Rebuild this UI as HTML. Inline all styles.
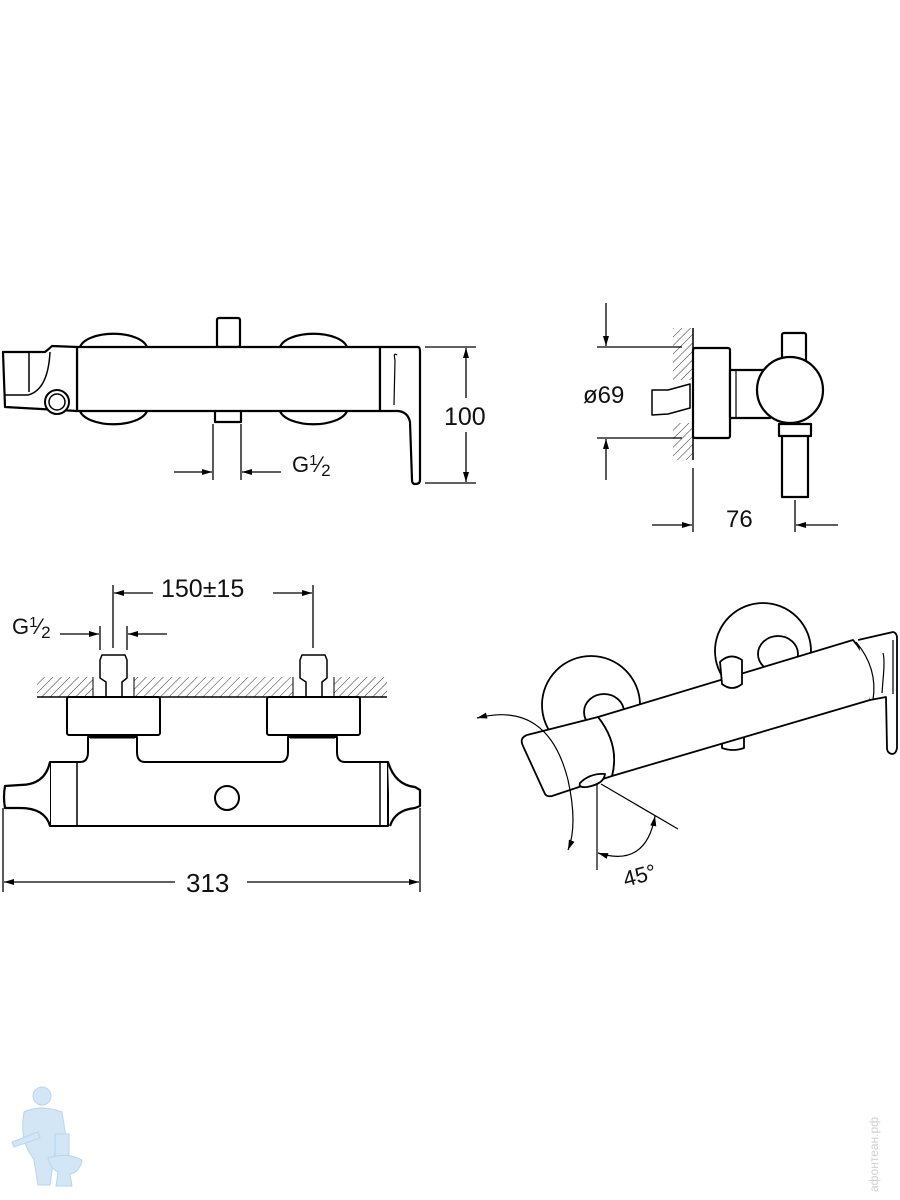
<!DOCTYPE html>
<html><head><style>
html,body{margin:0;padding:0;background:#fff}
svg{display:block}
text{font-family:"Liberation Sans",sans-serif;fill:#111}
</style></head><body>
<svg width="900" height="1200" viewBox="0 0 900 1200" xmlns="http://www.w3.org/2000/svg">
<defs>
<pattern id="h" width="6" height="6" patternUnits="userSpaceOnUse" patternTransform="rotate(45)">
<line x1="0" y1="0" x2="0" y2="6" stroke="#333" stroke-width="1"/></pattern>
<marker id="a" viewBox="0 0 10 10" refX="10" refY="5" markerWidth="12" markerHeight="10" markerUnits="userSpaceOnUse" orient="auto"><path d="M0,2 L10,5 L0,8z" fill="#000"/></marker>
<marker id="as" viewBox="0 0 10 10" refX="10" refY="5" markerWidth="12" markerHeight="10" markerUnits="userSpaceOnUse" orient="auto-start-reverse"><path d="M0,2 L10,5 L0,8z" fill="#000"/></marker>
</defs>

<!-- ===== TOP VIEW ===== -->
<g fill="#fff" stroke="#000" stroke-width="2.2" stroke-linejoin="round">
<path d="M80,347 A34,16 0 0 1 147,347"/>
<path d="M80,411 A34,16 0 0 0 147,411"/>
<path d="M280,347 A34,16 0 0 1 347,347"/>
<path d="M280,411 A34,16 0 0 0 347,411"/>
<rect x="217" y="318" width="23" height="29" rx="2"/>
<path d="M215,411 Q215,402 228,402 Q241,402 241,411 L241,422 L215,422z"/>
<rect x="77" y="347" width="303" height="64"/>
<path d="M3,352 L45,352 Q50,348 52,346 L77,347 L77,411 L5,407z"/>
<path d="M5,395 L28,395 Q48,390 50,352" fill="none" stroke-width="1.5"/>
<line x1="29" y1="352" x2="29" y2="392" stroke-width="1.5"/>
<circle cx="57" cy="402" r="12" stroke-width="2"/>
<circle cx="57" cy="402" r="8" stroke-width="1.5"/>
<path d="M380,347 L418,347 Q420,347 420,352 L420,480 Q420,484 415,484 Q412,484 412,480 L410,422 Q408,412 398,411 L380,411z"/>
<path d="M397,355 Q393,352 395,360 L394,405" fill="none" stroke-width="1.2"/>
</g>
<g stroke="#000" stroke-width="1.3" fill="none">
<line x1="425" y1="347" x2="476" y2="347"/>
<line x1="425" y1="483" x2="476" y2="483"/>
<line x1="466" y1="348" x2="466" y2="398" marker-start="url(#as)"/>
<line x1="466" y1="432" x2="466" y2="482" marker-end="url(#a)"/>
<line x1="213" y1="424" x2="213" y2="480"/>
<line x1="241" y1="424" x2="241" y2="480"/>
<line x1="174" y1="472" x2="212" y2="472" marker-end="url(#a)"/>
<line x1="281" y1="472" x2="242" y2="472" marker-end="url(#a)"/>
</g>
<text x="444" y="425" font-size="25">100</text>
<text x="292" y="472" font-size="22">G<tspan font-size="15" dy="-7">1</tspan><tspan font-size="22" dy="7">⁄</tspan><tspan font-size="17" dy="4">2</tspan></text>

<!-- ===== SIDE VIEW ===== -->
<rect x="673" y="328" width="20" height="132" fill="url(#h)"/>
<rect x="673" y="380" width="20" height="43" fill="#fff"/>
<line x1="693" y1="328" x2="693" y2="460" stroke="#000" stroke-width="1.5"/>
<g fill="#fff" stroke="#000" stroke-width="2.2" stroke-linejoin="round">
<path d="M652,390 L668,390 L690,384 L690,408 L668,414 L652,415z" stroke-width="1.5"/>
<rect x="693" y="348" width="37" height="90" rx="2"/>
<rect x="730" y="370" width="40" height="48"/>
<rect x="782" y="333" width="24" height="28" rx="2"/>
<rect x="782" y="425" width="26" height="72"/>
<rect x="779" y="424" width="32" height="12"/>
<circle cx="790" cy="390" r="33"/>
</g>
<line x1="736" y1="371" x2="736" y2="417" stroke="#000" stroke-width="1.2"/>
<g stroke="#000" stroke-width="1.3" fill="none">
<line x1="597" y1="347" x2="682" y2="347"/>
<line x1="597" y1="438" x2="682" y2="438"/>
<line x1="606" y1="303" x2="606" y2="346" marker-end="url(#a)"/>
<line x1="606" y1="480" x2="606" y2="439" marker-end="url(#a)"/>
<line x1="693" y1="468" x2="693" y2="532"/>
<line x1="795" y1="500" x2="795" y2="532"/>
<line x1="652" y1="525" x2="692" y2="525" marker-end="url(#a)"/>
<line x1="838" y1="525" x2="796" y2="525" marker-end="url(#a)"/>
</g>
<text x="583" y="403" font-size="24">ø69</text>
<text x="726" y="527" font-size="24">76</text>

<!-- ===== FRONT VIEW ===== -->
<rect x="37" y="677" width="350" height="20" fill="url(#h)"/>
<rect x="93" y="677" width="41" height="20" fill="#fff"/>
<rect x="293" y="677" width="41" height="20" fill="#fff"/>
<line x1="37" y1="697" x2="387" y2="697" stroke="#000" stroke-width="1.5"/>
<line x1="93" y1="677" x2="93" y2="697" stroke="#000" stroke-width="1"/>
<line x1="134" y1="677" x2="134" y2="697" stroke="#000" stroke-width="1"/>
<line x1="293" y1="677" x2="293" y2="697" stroke="#000" stroke-width="1"/>
<line x1="334" y1="677" x2="334" y2="697" stroke="#000" stroke-width="1"/>
<g fill="#fff" stroke="#000" stroke-width="2" stroke-linejoin="round">
<path d="M100,660 L102,655 L125,655 L127,660 L127,678 L122,682 L122,697 L106,697 L106,682 L100,678z" stroke-width="1.5"/>
<path d="M300,660 L302,655 L325,655 L327,660 L327,678 L322,682 L322,697 L306,697 L306,682 L300,678z" stroke-width="1.5"/>
<path d="M50,762 L50,826 L388,826 L388,762 L345,762 Q337,762 337,752 L337,737 L288,737 L288,752 Q288,762 280,762 L145,762 Q137,762 137,752 L137,737 L88,737 L88,752 Q88,762 80,762z"/>
<rect x="67" y="697" width="93" height="38" rx="2"/>
<rect x="267" y="697" width="93" height="38" rx="2"/>
<path d="M50,762 Q45,785 20,785 L5,786 Q3,797 5,808 L20,808 Q45,808 50,826" stroke-width="2.2"/>
<path d="M388,762 Q395,785 415,787 L420,790 L420,806 L415,808 Q395,810 390,826" stroke-width="2.2"/>
<circle cx="227" cy="798" r="12"/>
</g>
<line x1="77" y1="762" x2="77" y2="826" stroke="#000" stroke-width="1.5"/>
<line x1="380" y1="762" x2="380" y2="826" stroke="#000" stroke-width="1.5"/>
<line x1="90" y1="738" x2="135" y2="738" stroke="#000" stroke-width="1"/>
<line x1="290" y1="738" x2="335" y2="738" stroke="#000" stroke-width="1"/>
<g stroke="#000" stroke-width="1.3" fill="none">
<line x1="113" y1="585" x2="113" y2="648"/>
<line x1="313" y1="585" x2="313" y2="648"/>
<line x1="153" y1="593" x2="114" y2="593" marker-end="url(#a)"/>
<line x1="273" y1="593" x2="312" y2="593" marker-end="url(#a)"/>
<line x1="100" y1="626" x2="100" y2="650"/>
<line x1="127" y1="626" x2="127" y2="650"/>
<line x1="60" y1="634" x2="99" y2="634" marker-end="url(#a)"/>
<line x1="167" y1="634" x2="128" y2="634" marker-end="url(#a)"/>
<line x1="3" y1="808" x2="3" y2="892"/>
<line x1="420" y1="808" x2="420" y2="892"/>
<line x1="175" y1="882" x2="4" y2="882" marker-end="url(#a)"/>
<line x1="247" y1="882" x2="419" y2="882" marker-end="url(#a)"/>
</g>
<text x="161" y="597" font-size="25">150±15</text>
<text x="12" y="634" font-size="22">G<tspan font-size="15" dy="-7">1</tspan><tspan font-size="22" dy="7">⁄</tspan><tspan font-size="17" dy="4">2</tspan></text>
<text x="186" y="892" font-size="26">313</text>

<!-- ===== ISO VIEW ===== -->
<g fill="#fff" stroke="#000" stroke-width="1.8" stroke-linejoin="round">
<circle cx="591" cy="705" r="49"/>
<circle cx="763" cy="651" r="48"/>
<ellipse cx="604" cy="712" rx="20" ry="18"/>
<ellipse cx="778" cy="654" rx="20" ry="18"/>
<path d="M722,737 Q733,732 744,738 L744,748 Q733,752 722,748z"/>
<path d="M598,717 L853,640 Q875,665 870,700 L612,776 Q620,745 598,717z"/>
<path d="M720,662 Q730,652 742,660 L742,684 Q732,692 722,684z"/>
<path d="M598,717 L527,735 Q519,738 523,746 L545,794 Q547,797 552,796 L612,776 Q620,745 598,717z"/>
<path d="M858,640 L893,632 Q897,633 897,638 L897,748 Q896,754 892,754 Q887,753 887,748 L886,697 L870,700"/>
<path d="M883,653 Q885,660 883,680 L882,693" fill="none" stroke-width="1.2"/>
<line x1="893" y1="640" x2="893" y2="694" stroke-width="1.2"/>
<path d="M580,783 Q590,773 605,774 Q604,784 587,787 Q578,788 580,783z"/>
<path d="M856,642 Q878,668 873,700" fill="none" stroke-width="1.2"/>
</g>
<g stroke="#000" stroke-width="1.2" fill="none">
<path d="M477,718 Q548,700 568,780 Q578,825 568,850" marker-start="url(#as)" marker-end="url(#a)"/>
<line x1="597" y1="784" x2="597" y2="870"/>
<line x1="601" y1="784" x2="678" y2="829"/>
<path d="M598,853 Q646,868 655,816" marker-start="url(#as)" marker-end="url(#a)"/>
</g>
<text x="622" y="884" font-size="22" transform="rotate(-15 635 872)">45°</text>

<!-- ===== logo ===== -->
<g fill="#d3e6f5" stroke="#b9d6ee" stroke-width="1">
<circle cx="42" cy="1096" r="9"/>
<path d="M24,1112 Q40,1104 62,1112 L68,1150 L55,1150 L50,1185 L38,1185 L34,1160 L28,1150 Q20,1135 24,1112z"/>
<path d="M12,1142 L38,1132 L40,1138 L14,1147z"/>
<rect x="55" y="1134" width="14" height="22"/>
<path d="M48,1158 Q68,1152 82,1160 Q80,1172 70,1174 L72,1186 L56,1186 L58,1172 Q50,1168 48,1158z"/>
</g>
<text x="0" y="0" font-size="12" style="fill:#d0d0d0" transform="translate(878,1192) rotate(-90)">афонтеан.рф</text>
</svg>
</body></html>
